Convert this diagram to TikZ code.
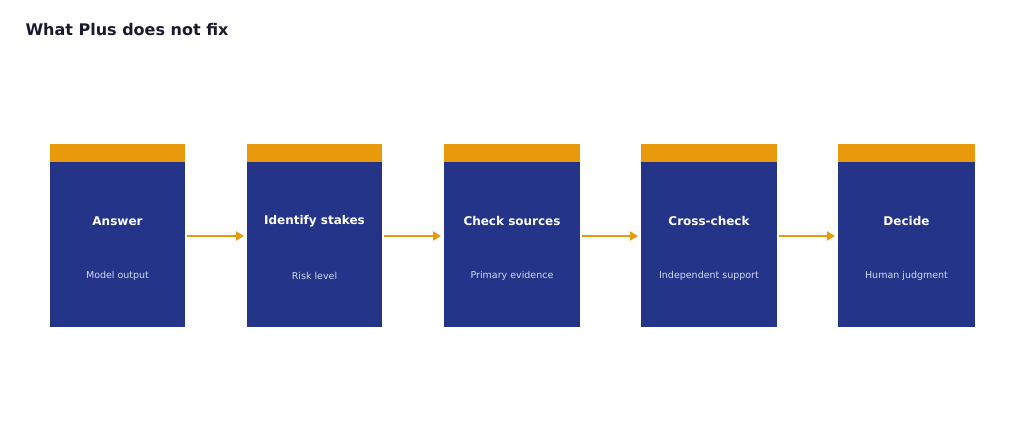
\documentclass[tikz,border=0pt]{standalone}
\usepackage{fontspec}
\setmainfont{DejaVu Sans}
\usetikzlibrary{arrows.meta}
\definecolor{navy}{HTML}{233489}
\definecolor{amber}{HTML}{E8990C}
\definecolor{ink}{HTML}{1A1A2E}
\definecolor{pale}{HTML}{D4DAF2}
\begin{document}
\begin{tikzpicture}[x=1pt,y=-1pt,
  body/.style={fill=navy,draw=none},
  topbar/.style={fill=amber,draw=none},
  head/.style={text=white,font=\bfseries\fontsize{12}{14}\selectfont},
  sub/.style={text=pale,font=\fontsize{9.5}{11}\selectfont},
  flow/.style={draw=amber,line width=2.2pt,-{Triangle[length=8pt,width=9pt]}}]
\useasboundingbox (0,0) rectangle (1024,441);
\node[anchor=west,text=ink,font=\bfseries\fontsize{16}{19}\selectfont] (title) at (22,30) {What Plus does not fix};
\foreach \i/\xa/\xb/\h/\s in {1/50/185/Answer/Model output,2/247/382/Identify stakes/Risk level,3/444/580/Check sources/Primary evidence,4/641/777/Cross-check/Independent support,5/838/975/Decide/Human judgment}{
  \fill[topbar] (\xa,144) rectangle (\xb,162);
  \fill[body] (\xa,162) rectangle (\xb,327);
  \coordinate (L\i) at (\xa,236);
  \coordinate (R\i) at (\xb,236);
  \node[head] (h\i) at ({(\xa+\xb)/2},221) {\h};
  \node[sub] (s\i) at ({(\xa+\xb)/2},276) {\s};
}
\foreach \a/\b in {1/2,2/3,3/4,4/5}{
  \draw[flow] ([xshift=2pt]R\a) -- ([xshift=-3pt]L\b);
}
\end{tikzpicture}
\end{document}
